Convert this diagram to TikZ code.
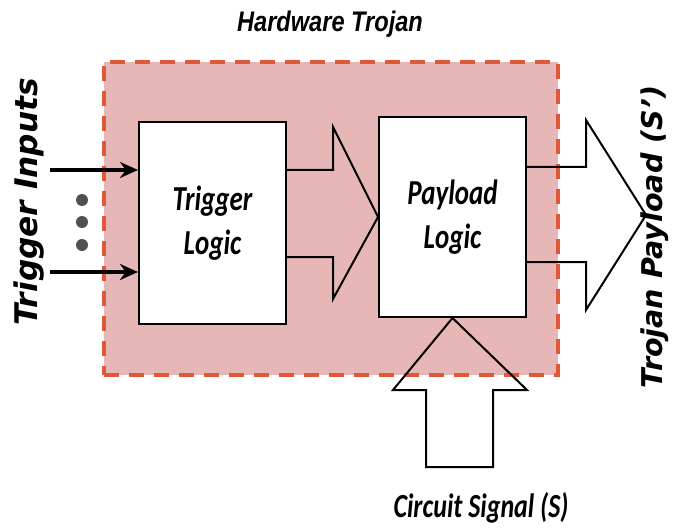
\documentclass[tikz,border=0pt]{standalone}
\usepackage{fontspec}
\usepackage{graphicx}
\setmainfont{Carlito}
\newfontfamily\headfont{DejaVu Sans}
\newfontfamily\hwfont{Liberation Sans}
\usepackage{tikz}
\usetikzlibrary{arrows.meta}
\definecolor{trojanpink}{RGB}{231,183,183}
\definecolor{trojanred}{RGB}{224,88,58}
\definecolor{dotgray}{RGB}{80,80,80}
\newcommand{\tallfont}[1]{\scalebox{1}[1.3]{#1}}

\begin{document}
\begin{tikzpicture}[x=0.5pt, y=-0.5pt, >=Stealth,
    logicbox/.style={draw, line width=1pt, fill=white, minimum width=73.5pt, inner sep=0pt, align=center,
        font=\bfseries\itshape\fontsize{13.5}{22}\selectfont},
    fatarrow/.style={draw, line width=1pt, line join=miter},
    sidetext/.style={font=\headfont\bfseries\itshape\fontsize{15.6}{18}\selectfont, rotate=90},
    inarrow/.style={-{Stealth[length=9pt, width=8pt]}, line width=2pt}]
    \useasboundingbox (0,0) rectangle (673,529);
    % trojan region
    \node[draw=trojanred, fill=trojanpink, line width=2pt, dash pattern=on 7.5pt off 5pt,
        minimum width=227pt, minimum height=156.5pt, inner sep=0pt] (trojan) at (331,218.5) {};
    \node[font=\hwfont\bfseries\itshape\fontsize{11.8}{14}\selectfont] (hwtitle) at (330,24) {\scalebox{1}[1.2]{Hardware Trojan}};
    % logic blocks
    \node[logicbox, minimum height=101pt] (trig) at (212.5,223) {\tallfont{Trigger}\\\tallfont{Logic}};
    \node[logicbox, minimum height=100pt] (pay) at (452.5,217) {\tallfont{Payload}\\\tallfont{Logic}};
    % fat arrows
    \draw[fatarrow] (286,170) -- (333,170) -- (333,127) -- (pay.west) -- (333,299) -- (333,257) -- (286,257);
    \draw[fatarrow] (526,167) -- (586,167) -- (586,120) -- (646,215) -- (586,310) -- (586,262) -- (526,262);
    \draw[fatarrow] (pay.south) -- (527,390) -- (493,390) -- (493,467) -- (426,467) -- (426,390) -- (393,390) -- cycle;
    % trigger inputs
    \coordinate (in1) at (50,170);
    \coordinate (in2) at (50,272);
    \draw[inarrow] (in1) -- (trig.west |- in1);
    \draw[inarrow] (in2) -- (trig.west |- in2);
    \foreach \y in {200,222,245}
        \fill[dotgray] (82,\y) circle (3pt);
    \node[sidetext] (trigin) at (29,202) {Trigger Inputs};
    \node[sidetext, font=\headfont\bfseries\itshape\fontsize{14.3}{17}\selectfont] (trojout) at (655,237) {Trojan Payload (S’)};
    \node[font=\bfseries\itshape\fontsize{13}{17}\selectfont] (circsig) at (481,508) {\tallfont{Circuit Signal (S)}};
\end{tikzpicture}
\end{document}
